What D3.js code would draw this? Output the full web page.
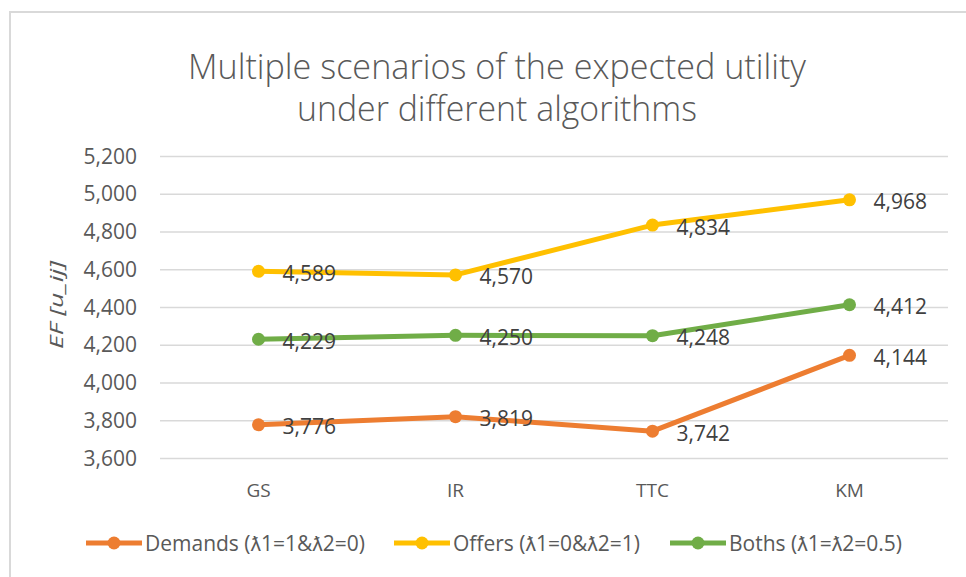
<!DOCTYPE html>
<html>
<head>
<meta charset="utf-8">
<script src="https://cdn.jsdelivr.net/npm/d3@7"></script>
<style>
    body { margin: 0; background: #fff; }
    svg { display: block; font-family: "Open Sans", sans-serif; }
</style>
</head>
<body>
<div id="graph"></div>
<script>
window.addEventListener("load", initGraph);

// chart data
let categories = ["GS", "IR", "TTC", "KM"];
let demands = [3776, 3819, 3742, 4144];
let offers = [4589, 4570, 4834, 4968];
let boths = [4229, 4250, 4248, 4412];
let yTicks = [3600, 3800, 4000, 4200, 4400, 4600, 4800, 5000, 5200];
let seriesNames = ["Demands (ƛ1=1&ƛ2=0)", "Offers (ƛ1=0&ƛ2=1)", "Boths (ƛ1=ƛ2=0.5)"];
let titleLines = ["Multiple scenarios of the expected utility", "under different algorithms"];

let colors = ["#ED7D31", "#FFC000", "#70AD47"];
let textColor = "#595959";

function initGraph() {
    let width = 966, height = 577;
    let svg = d3.select("#graph").append("svg")
        .attr("width", width)
        .attr("height", height);

    // outer frame
    svg.append("rect")
        .attr("x", 10).attr("y", 12)
        .attr("width", width).attr("height", height)
        .attr("fill", "#fff")
        .attr("stroke", "#d9d9d9")
        .attr("stroke-width", 2);

    // title
    svg.selectAll(".title")
        .data(titleLines)
        .enter().append("text")
        .attr("class", "title")
        .attr("x", 497)
        .attr("y", (d, i) => 79 + i * 42)
        .attr("text-anchor", "middle")
        .attr("fill", textColor)
        .attr("font-size", 34)
        .attr("font-weight", 300)
        .attr("textLength", (d, i) => i === 0 ? 618 : 400)
        .attr("lengthAdjust", "spacingAndGlyphs")
        .text(d => d);

    let x = d3.scalePoint()
        .domain(categories)
        .range([160, 948])
        .padding(0.5);

    let y = d3.scaleLinear()
        .domain([3600, 5200])
        .range([458, 156]);

    // gridlines
    svg.append("g")
        .selectAll("line")
        .data(yTicks)
        .enter().append("line")
        .attr("x1", 160).attr("x2", 948)
        .attr("y1", d => y(d) + 0.5).attr("y2", d => y(d) + 0.5)
        .attr("stroke", "#d9d9d9")
        .attr("stroke-width", 1.3);

    // y tick labels
    svg.append("g")
        .selectAll("text")
        .data(yTicks)
        .enter().append("text")
        .attr("x", 137)
        .attr("y", d => y(d))
        .attr("dy", "0.36em")
        .attr("text-anchor", "end")
        .attr("fill", textColor)
        .attr("font-size", 21)
        .text(d => d3.format(",")(d));

    // y axis title
    svg.append("text")
        .attr("transform", "translate(63,305) rotate(-90)")
        .attr("text-anchor", "middle")
        .attr("fill", textColor)
        .attr("font-size", 19)
        .attr("font-style", "italic")
        .attr("textLength", 88)
        .attr("lengthAdjust", "spacingAndGlyphs")
        .text("EF [u_ij]");

    // category labels
    svg.append("g")
        .selectAll("text")
        .data(categories)
        .enter().append("text")
        .attr("x", d => x(d))
        .attr("y", 497)
        .attr("text-anchor", "middle")
        .attr("fill", textColor)
        .attr("font-size", 19)
        .text(d => d);

    let series = [demands, offers, boths];

    let valueLine = d3.line()
        .x((d, i) => x(categories[i]))
        .y(d => y(d));

    let groups = svg.selectAll(".series")
        .data(series)
        .enter().append("g")
        .attr("class", "series");

    groups.append("path")
        .attr("d", d => valueLine(d))
        .attr("fill", "none")
        .attr("stroke", (d, i) => colors[i])
        .attr("stroke-width", 5)
        .attr("stroke-linejoin", "round");

    groups.each(function (values, si) {
        let g = d3.select(this);
        g.selectAll("circle")
            .data(values)
            .enter().append("circle")
            .attr("cx", (d, i) => x(categories[i]))
            .attr("cy", d => y(d))
            .attr("r", 6.5)
            .attr("fill", colors[si]);
    });

    // data labels on top
    series.forEach(values => {
        svg.append("g")
            .selectAll("text")
            .data(values)
            .enter().append("text")
            .attr("x", (d, i) => x(categories[i]) + 24)
            .attr("y", d => y(d) + 2)
            .attr("dy", "0.36em")
            .attr("fill", "#404040")
            .attr("font-size", 21)
            .text(d => d3.format(",")(d));
    });

    // legend
    let legendX = [145, 453, 729];
    let legend = svg.selectAll(".legend")
        .data(seriesNames)
        .enter().append("g")
        .attr("class", "legend")
        .attr("transform", (d, i) => `translate(${legendX[i]},543)`);

    legend.append("line")
        .attr("x1", -59).attr("x2", -3)
        .attr("stroke", (d, i) => colors[i])
        .attr("stroke-width", 5);

    legend.append("circle")
        .attr("cx", -31)
        .attr("r", 6.5)
        .attr("fill", (d, i) => colors[i]);

    legend.append("text")
        .attr("x", 0)
        .attr("dy", "0.36em")
        .attr("fill", textColor)
        .attr("font-size", 21)
        .text(d => d);
}
</script>
</body>
</html>
